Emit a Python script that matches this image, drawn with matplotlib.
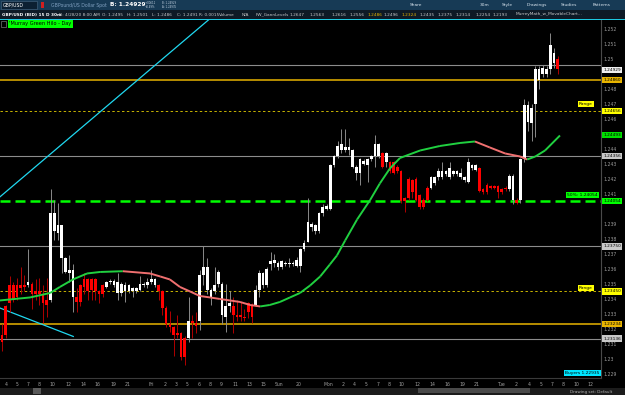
import numpy as np
import matplotlib.pyplot as plt
from matplotlib.collections import LineCollection
from matplotlib.patches import Rectangle
import matplotlib.transforms as mtrans

# ---- candle data (30m GBP/USD) ----
opens = [1.2316, 1.2335, 1.2349, 1.2349, 1.2349, 1.2349, 1.2349, 1.2349, 1.2350, 1.2345,
         1.2345, 1.2343, 1.2339, 1.2339, 1.2385, 1.2384, 1.2367, 1.2358, 1.2357, 1.2341,
         1.2341, 1.2349, 1.2353, 1.2353, 1.2353, 1.2353, 1.2345, 1.2349, 1.2348, 1.2351,
         1.2349, 1.2344, 1.2344, 1.2345, 1.2345, 1.2345, 1.2345, 1.2346, 1.2349, 1.2349,
         1.2351, 1.2349, 1.2349, 1.2345, 1.2334, 1.2323, 1.2321, 1.2317, 1.2317, 1.2314,
         1.2314, 1.2325, 1.2324, 1.2325, 1.2356, 1.2346, 1.2341, 1.2345, 1.2350, 1.2329,
         1.2328, 1.2335, 1.2335, 1.2329, 1.2329, 1.2328, 1.2337, 1.2336, 1.2336, 1.2346,
         1.2349, 1.2349, 1.2363, 1.2364, 1.2361, 1.2361, 1.2363, 1.2363, 1.2363, 1.2362,
         1.2362, 1.2373, 1.2378, 1.2388, 1.2385, 1.2385, 1.2397, 1.2400, 1.2400, 1.2429,
         1.2435, 1.2439, 1.2439, 1.2439, 1.2428, 1.2424, 1.2424, 1.2430, 1.2429, 1.2433,
         1.2435, 1.2435, 1.2437, 1.2431, 1.2431, 1.2431, 1.2428, 1.2425, 1.2407, 1.2420,
         1.2419, 1.2420, 1.2409, 1.2406, 1.2414, 1.2414, 1.2417, 1.2421, 1.2421, 1.2423,
         1.2421, 1.2423, 1.2423, 1.2421, 1.2419, 1.2418, 1.2427, 1.2426, 1.2427, 1.2413,
         1.2416, 1.2415, 1.2415, 1.2415, 1.2413, 1.2414, 1.2413, 1.2406, 1.2406, 1.2406,
         1.2433, 1.2458, 1.2457, 1.2470, 1.2486, 1.2490, 1.2490, 1.2493, 1.2497, 1.2500]
highs = [1.2323, 1.2336, 1.2355, 1.2351, 1.2354, 1.2361, 1.2356, 1.2373, 1.2351, 1.2353,
         1.2354, 1.2349, 1.2354, 1.2413, 1.2406, 1.2404, 1.2389, 1.2368, 1.2369, 1.2363,
         1.2347, 1.2350, 1.2357, 1.2354, 1.2354, 1.2354, 1.2346, 1.2350, 1.2352, 1.2353,
         1.2353, 1.2357, 1.2351, 1.2351, 1.2350, 1.2348, 1.2348, 1.2355, 1.2351, 1.2354,
         1.2359, 1.2354, 1.2350, 1.2346, 1.2335, 1.2332, 1.2322, 1.2329, 1.2318, 1.2315,
         1.2341, 1.2329, 1.2331, 1.2359, 1.2375, 1.2367, 1.2347, 1.2361, 1.2359, 1.2351,
         1.2350, 1.2345, 1.2341, 1.2339, 1.2338, 1.2333, 1.2338, 1.2337, 1.2349, 1.2359,
         1.2358, 1.2361, 1.2371, 1.2370, 1.2365, 1.2366, 1.2365, 1.2367, 1.2365, 1.2368,
         1.2374, 1.2379, 1.2407, 1.2391, 1.2390, 1.2398, 1.2403, 1.2403, 1.2430, 1.2436,
         1.2445, 1.2453, 1.2453, 1.2447, 1.2440, 1.2429, 1.2434, 1.2433, 1.2434, 1.2436,
         1.2449, 1.2444, 1.2438, 1.2438, 1.2432, 1.2432, 1.2429, 1.2426, 1.2408, 1.2421,
         1.2420, 1.2421, 1.2410, 1.2407, 1.2415, 1.2422, 1.2422, 1.2427, 1.2431, 1.2426,
         1.2431, 1.2426, 1.2426, 1.2427, 1.2422, 1.2434, 1.2430, 1.2430, 1.2428, 1.2414,
         1.2417, 1.2416, 1.2416, 1.2416, 1.2414, 1.2415, 1.2423, 1.2423, 1.2407, 1.2434,
         1.2473, 1.2472, 1.2470, 1.2495, 1.2495, 1.2496, 1.2495, 1.2517, 1.2507, 1.2502]
lows = [1.2305, 1.2314, 1.2331, 1.2338, 1.2339, 1.2343, 1.2345, 1.2348, 1.2333, 1.2339,
        1.2336, 1.2324, 1.2328, 1.2338, 1.2379, 1.2379, 1.2357, 1.2357, 1.2351, 1.2331,
        1.2331, 1.2335, 1.2343, 1.2339, 1.2339, 1.2339, 1.2337, 1.2341, 1.2347, 1.2350,
        1.2348, 1.2339, 1.2342, 1.2338, 1.2344, 1.2341, 1.2344, 1.2345, 1.2348, 1.2347,
        1.2350, 1.2348, 1.2339, 1.2329, 1.2321, 1.2318, 1.2302, 1.2314, 1.2299, 1.2296,
        1.2311, 1.2314, 1.2317, 1.2319, 1.2349, 1.2343, 1.2336, 1.2343, 1.2348, 1.2323,
        1.2318, 1.2331, 1.2317, 1.2325, 1.2325, 1.2325, 1.2327, 1.2324, 1.2335, 1.2341,
        1.2347, 1.2348, 1.2359, 1.2361, 1.2359, 1.2360, 1.2362, 1.2361, 1.2362, 1.2361,
        1.2358, 1.2372, 1.2378, 1.2385, 1.2383, 1.2384, 1.2395, 1.2399, 1.2399, 1.2428,
        1.2434, 1.2437, 1.2438, 1.2436, 1.2427, 1.2419, 1.2416, 1.2429, 1.2418, 1.2432,
        1.2428, 1.2434, 1.2427, 1.2428, 1.2424, 1.2423, 1.2424, 1.2404, 1.2398, 1.2406,
        1.2407, 1.2405, 1.2400, 1.2400, 1.2405, 1.2413, 1.2416, 1.2419, 1.2420, 1.2422,
        1.2420, 1.2422, 1.2422, 1.2420, 1.2418, 1.2417, 1.2426, 1.2425, 1.2411, 1.2410,
        1.2410, 1.2413, 1.2413, 1.2407, 1.2410, 1.2412, 1.2412, 1.2403, 1.2403, 1.2404,
        1.2431, 1.2452, 1.2445, 1.2448, 1.2480, 1.2488, 1.2488, 1.2490, 1.2494, 1.2490]
closes = [1.2311, 1.2316, 1.2337, 1.2339, 1.2341, 1.2347, 1.2348, 1.2351, 1.2343, 1.2343,
          1.2343, 1.2337, 1.2336, 1.2397, 1.2397, 1.2389, 1.2389, 1.2367, 1.2359, 1.2359,
          1.2338, 1.2338, 1.2348, 1.2345, 1.2346, 1.2345, 1.2343, 1.2343, 1.2351, 1.2352,
          1.2352, 1.2351, 1.2350, 1.2349, 1.2349, 1.2347, 1.2347, 1.2350, 1.2350, 1.2351,
          1.2353, 1.2353, 1.2345, 1.2334, 1.2323, 1.2321, 1.2316, 1.2316, 1.2301, 1.2301,
          1.2325, 1.2324, 1.2322, 1.2356, 1.2361, 1.2361, 1.2346, 1.2349, 1.2358, 1.2350,
          1.2335, 1.2337, 1.2329, 1.2328, 1.2328, 1.2327, 1.2331, 1.2328, 1.2346, 1.2357,
          1.2357, 1.2360, 1.2365, 1.2366, 1.2364, 1.2365, 1.2364, 1.2364, 1.2364, 1.2366,
          1.2373, 1.2377, 1.2391, 1.2390, 1.2389, 1.2397, 1.2401, 1.2402, 1.2429, 1.2435,
          1.2442, 1.2443, 1.2441, 1.2441, 1.2439, 1.2428, 1.2433, 1.2432, 1.2433, 1.2435,
          1.2443, 1.2443, 1.2428, 1.2437, 1.2425, 1.2424, 1.2425, 1.2405, 1.2405, 1.2407,
          1.2411, 1.2406, 1.2401, 1.2401, 1.2406, 1.2421, 1.2421, 1.2425, 1.2425, 1.2425,
          1.2427, 1.2425, 1.2425, 1.2424, 1.2421, 1.2431, 1.2429, 1.2429, 1.2412, 1.2411,
          1.2411, 1.2414, 1.2414, 1.2411, 1.2411, 1.2413, 1.2422, 1.2422, 1.2404, 1.2433,
          1.2469, 1.2469, 1.2467, 1.2493, 1.2493, 1.2494, 1.2493, 1.2509, 1.2504, 1.2493]

# moving average knots (candle index, price)
ma_idx = [-0.6, 7.5, 12.9, 15.5, 19.0, 22.8, 26.3, 32.4, 39.7, 42.4, 45.0, 47.7, 50.4, 53.0,
          55.8, 58.4, 61.1, 63.8, 66.5, 69.2, 71.8, 74.5, 77.2, 79.9, 82.6, 85.3, 87.9, 89.8,
          92.0, 95.2, 98.7, 101.3, 104.0, 106.7, 112.1, 117.4, 122.8, 126.8, 130.8, 134.9,
          138.9, 140.8, 143.0, 145.6, 149.6]
ma_val = [1.2339, 1.2341, 1.2344, 1.2348, 1.2353, 1.2357, 1.2358, 1.23585, 1.2357, 1.2355,
          1.2353, 1.2348, 1.2345, 1.2342, 1.2341, 1.2340, 1.2339, 1.2338, 1.2336, 1.2335,
          1.2336, 1.2338, 1.2341, 1.2344, 1.2349, 1.2355, 1.2363, 1.2369, 1.2379, 1.2393,
          1.2406, 1.2417, 1.2427, 1.2434, 1.2439, 1.2442, 1.2444, 1.2445, 1.2441, 1.2437,
          1.2435, 1.2433, 1.2435, 1.2439, 1.2449]

# horizontal levels
grey_levels = [1.2496, 1.24356, 1.23750, 1.23136]
gold_levels = [1.24860, 1.23234]
range_levels = [1.24656, 1.23450]
mid_level = 1.24054
ma_last = 1.24493
last_price = 1.24929

# trendlines (index, price)
trend1 = ([-0.6, 55.8], [1.2408, 1.2527])
trend2 = ([-0.6, 19.1], [1.2334, 1.2315])

yticks = [1.229, 1.230, 1.231, 1.232, 1.233, 1.234, 1.235, 1.236, 1.237, 1.238, 1.239,
          1.241, 1.242, 1.243, 1.244, 1.246, 1.247, 1.248, 1.250, 1.251, 1.252]
xtick_pos = [1.1, 4.0, 7.0, 9.9, 13.4, 17.7, 21.7, 25.7, 29.8, 33.8, 39.9, 43.7, 46.6, 49.6,
             52.8, 55.8, 58.7, 62.5, 66.2, 70.2, 74.3, 79.6, 87.4, 91.4, 94.4, 97.6, 100.8,
             103.8, 107.2, 111.3, 115.3, 119.3, 123.3, 127.3, 133.8, 137.8, 141.3, 144.5,
             147.5, 150.5, 154.0, 157.9]
xtick_lab = ['4', '5', '7', '8', '10', '12', '14', '16', '19', '21', 'Fri', '2', '3', '5', '6',
             '8', '9', '11', '13', '15', 'Sun', '20', 'Mon', '2', '4', '5', '7', '8', '10', '12',
             '14', '16', '19', '21', 'Tue', '2', '4', '5', '7', '8', '10', '12']

W, H = 625, 395


def fx(px):
    return px / W


def fy(py):
    return 1 - py / H


fig = plt.figure(figsize=(6.25, 3.95), dpi=100, facecolor='black')
ax = fig.add_axes([0, fy(378), fx(601), fy(20) - fy(378)])
ax.set_facecolor('black')
ax.set_xlim(-0.55, 160.6)
ax.set_ylim(1.22873, 1.2526)

o = np.array(opens)
h = np.array(highs)
l = np.array(lows)
c = np.array(closes)
idx = np.arange(len(o))
up = c >= o

# level lines
for v in grey_levels:
    ax.axhline(v, color='#8c8c8c', lw=0.8, zorder=1)
for v in gold_levels:
    ax.axhline(v, color='#e8b400', lw=1.1, zorder=1)
for v in range_levels:
    ax.axhline(v, color='#c8b400', lw=0.7, ls=(0, (2.5, 2.5)), zorder=1)
ax.axhline(mid_level, color='#00ff00', lw=1.8, ls=(0, (4, 2)), zorder=1)

# trendlines
ax.plot(trend1[0], trend1[1], color='#20d8f0', lw=0.9, zorder=2)
ax.plot(trend2[0], trend2[1], color='#20d8f0', lw=0.9, zorder=2)

# candles
wick_col = np.where(up, '#8a8a8a', '#b00000')
body_col = np.where(up, '#ffffff', '#ff0000')
ax.vlines(idx, l, h, colors=wick_col, lw=0.7, zorder=3)
body_h = np.maximum(np.abs(c - o), 0.00008)
ax.bar(idx, body_h, bottom=np.minimum(o, c), width=0.72, color=body_col, lw=0, zorder=4)

# moving average, green rising / salmon falling
pts = np.column_stack([ma_idx, ma_val])
segs = np.stack([pts[:-1], pts[1:]], axis=1)
seg_col = ['#20d040' if b >= a else '#f07070' for a, b in zip(ma_val[:-1], ma_val[1:])]
ax.add_collection(LineCollection(segs, colors=seg_col, lw=1.4, zorder=5))

# axes styling
for s in ['top', 'left']:
    ax.spines[s].set_visible(False)
ax.spines['right'].set_color('#4a4a4a')
ax.spines['bottom'].set_color('#3a3a3a')
ax.yaxis.tick_right()
ax.set_yticks(yticks, [f"{v:.3f}".rstrip('0') for v in yticks])
ax.tick_params(axis='y', length=0, pad=2, labelsize=3.3, labelcolor='#9a9a9a')
ax.set_xticks(xtick_pos, xtick_lab)
ax.tick_params(axis='x', length=0, pad=3, labelsize=3.3, labelcolor='#a0a0a0')

# right side value bubbles
bt = mtrans.blended_transform_factory(fig.transFigure, ax.transData)
bubbles = [(last_price, '#f0f0f0'), (1.24860, '#e8b400'), (1.24656, '#ffff00'),
           (ma_last, '#00e000'), (1.24356, '#c8c8c8'), (mid_level, '#00ff00'),
           (1.23750, '#c8c8c8'), (1.23450, '#ffff00'), (1.23234, '#e8b400'),
           (1.23136, '#c8c8c8')]
for v, bg in bubbles:
    fig.text(fx(603), v, f"{v:.5f}", transform=bt, fontsize=3.1, color='black', va='center',
             ha='left', bbox=dict(boxstyle='square,pad=0.25', fc=bg, ec='none'))


# in-chart tags
def tag(px, py, s, bg, fs=3.2):
    fig.text(fx(px), fy(py), s, fontsize=fs, color='black', va='center', ha='left',
             bbox=dict(boxstyle='square,pad=0.3', fc=bg, ec='none'))


tag(9, 24, "'Murray Green Hilo - Day", '#00ff00', 3.6)
tag(579, 104, 'Range', '#ffff00')
tag(579, 288, 'Range', '#ffff00')
tag(567, 195, '50%: 1.24054', '#00ff00')
tag(565, 373, 'Buyers 1.22935', '#00e5ff')
fig.patches.append(Rectangle((fx(1), fy(27)), fx(5), fy(21) - fy(27), transform=fig.transFigure,
                             fc='none', ec='#777777', lw=0.5))

# header bars
fig.patches.append(Rectangle((0, fy(10)), 1, 10 / H, transform=fig.transFigure,
                             fc='#173a55', ec='none'))
fig.patches.append(Rectangle((0, fy(19)), 1, 9 / H, transform=fig.transFigure,
                             fc='#0e1a26', ec='none'))
fig.patches.append(Rectangle((0, fy(20)), 1, 1.2 / H, transform=fig.transFigure,
                             fc='#1ec8e0', ec='none'))
fig.patches.append(Rectangle((fx(1), fy(9)), fx(36), 8 / H, transform=fig.transFigure,
                             fc='#0c2032', ec='#4a6a85', lw=0.4))
fig.patches.append(Rectangle((fx(41), fy(8)), fx(3), 6 / H, transform=fig.transFigure,
                             fc='#d02020', ec='none'))
fig.text(fx(3), fy(5), 'GBP/USD', fontsize=3.3, color='white', va='center')
fig.text(fx(51), fy(5), 'GBPound/US Dollar Spot', fontsize=3.3, color='#7f9fbf', va='center')
fig.text(fx(110), fy(5), 'B: 1.24929', fontsize=4.2, color='white', weight='bold', va='center')
for px, py, s in [(145, 2.6, '+.00611'), (145, 7.4, '+0.49%'),
                  (162, 2.6, 'B: 1.24929'), (162, 7.4, 'A: 1.24935')]:
    fig.text(fx(px), fy(py), s, fontsize=1.9, color='#c0d0e0', va='center')
for px, s in [(410, 'Share'), (480, '30m'), (502, 'Style'), (527, 'Drawings'),
              (561, 'Studies'), (593, 'Patterns')]:
    fig.text(fx(px), fy(5), s, fontsize=3.2, color='#d8e4ee', va='center')

row2 = [(2, 'GBP/USD (BID) 15 D 30m', 'white'), (59, 'D: 4/28/20 8:00 AM', '#c8c8c8'),
        (102, 'O: 1.2495', '#c8c8c8'), (127, 'H: 1.2501', '#c8c8c8'),
        (152, 'L: 1.2486', '#c8c8c8'), (177, 'C: 1.2491', '#c8c8c8'),
        (199, 'R: 0.0015', '#c8c8c8'), (219, 'Volume', '#c8c8c8'), (242, 'N/A', '#c8c8c8'),
        (256, 'FW_GannLevels', '#c8c8c8'), (289, '1.2647', '#c8c8c8'),
        (310, '1.2563', '#c8c8c8'), (332, '1.2616', '#c8c8c8'), (349, '1.2556', '#c8c8c8'),
        (367, '1.2486', '#e8b400'), (384, '1.2496', '#c8c8c8'), (402, '1.2324', '#e8b400'),
        (420, '1.2435', '#c8c8c8'), (438, '1.2375', '#c8c8c8'), (456, '1.2314', '#c8c8c8'),
        (475, '1.2254', '#c8c8c8'), (493, '1.2193', '#c8c8c8'),
        (516, 'MurreyMath_w_MovableChart...', '#c8c8c8')]
for px, s, col in row2:
    fig.text(fx(px), fy(14.5), s, fontsize=3.1, color=col, va='center',
             weight='bold' if px == 2 else 'normal')
    fig.patches.append(Rectangle((fx(px - 2), fy(18.5)), 0.4 / W, 8 / H,
                                 transform=fig.transFigure, fc='#5a6570', ec='none'))

# bottom status bar
fig.patches.append(Rectangle((0, 0), 1, 7 / H, transform=fig.transFigure, fc='#1c1c1c',
                             ec='none'))
fig.patches.append(Rectangle((fx(418), fy(393)), fx(112), 5 / H, transform=fig.transFigure,
                             fc='#4a4a4a', ec='none'))
fig.patches.append(Rectangle((fx(33), fy(394)), fx(8), 6 / H, transform=fig.transFigure,
                             fc='#5a5a5a', ec='none'))
fig.text(fx(570), fy(391.5), 'Drawing set: Default', fontsize=3.0, color='#b0b0b0',
         va='center')

fig.savefig('out.png', dpi=100, facecolor='black')
